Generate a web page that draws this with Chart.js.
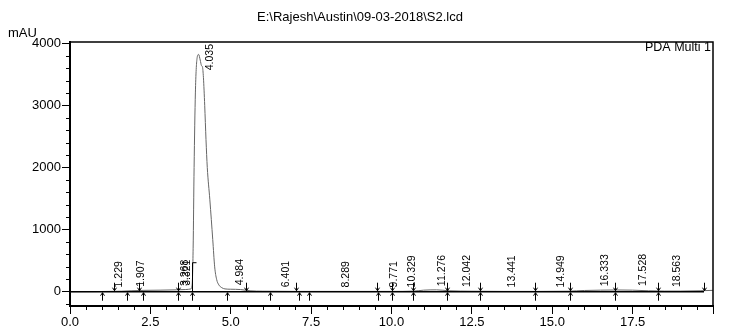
<!DOCTYPE html>
<html>
<head>
<meta charset="utf-8">
<script src="https://cdn.jsdelivr.net/npm/chart.js@4.4.0/dist/chart.umd.min.js"></script>
<style>
	html, body { margin: 0; padding: 0; background: #fff; }
</style>
</head>
<body>
<canvas id="chrom" width="730" height="332"></canvas>
<script>
// chromatogram trace (min, mAU)
const traceTimes = [0, 0.8, 1.2, 1.6, 1.9, 2.3, 2.8, 3.3, 3.6, 3.76, 3.8, 3.83, 3.86, 3.9, 3.95, 4.0, 4.05, 4.09, 4.12, 4.15, 4.19, 4.23, 4.27, 4.35, 4.44, 4.5, 4.56, 4.63, 4.72, 4.82, 5.0, 5.3, 5.6, 6.0, 7.0, 8.0, 9.0, 10.0, 10.7, 11.0, 11.4, 11.8, 12.5, 13.5, 14.5, 15.5, 16.0, 16.5, 17.0, 17.5, 18.0, 18.5, 19.0, 19.6, 20.0];
const traceValues = [0, 2, 5, 8, 15, 22, 25, 30, 35, 45, 120, 700, 2000, 3200, 3750, 3820, 3730, 3640, 3620, 3450, 3000, 2450, 2000, 1480, 840, 400, 200, 110, 65, 45, 40, 35, 15, 8, 5, 5, 5, 5, 10, 25, 30, 15, 8, 5, 5, 8, 20, 25, 28, 25, 15, 10, 10, 15, 22];

// integration baseline
const baselineTimes = [0, 19.72];
const baselineValues = [0, 0];

// peak table
const peakLabels = ["1.229", "1.907", "3.268", "3.321", "4.035", "4.984", "6.401", "8.289", "9.771", "10.329", "11.276", "12.042", "13.441", "14.949", "16.333", "17.528", "18.563"];
const peakTimes = [1.229, 1.907, 3.268, 3.321, 4.035, 4.984, 6.401, 8.289, 9.771, 10.329, 11.276, 12.042, 13.441, 14.949, 16.333, 17.528, 18.563];
const peakHeights = [5, 15, 28, 30, 3820, 40, 8, 5, 5, 5, 25, 10, 5, 5, 22, 28, 10];

// peak start / end marks
const startTimes = [1.0, 1.76, 2.28, 3.35, 4.87, 6.22, 7.13, 7.44, 9.58, 10.0, 10.67, 11.74, 12.74, 14.45, 15.56, 16.94, 18.3];
const endTimes = [1.38, 2.14, 3.35, 5.46, 7.03, 9.56, 10.0, 10.67, 11.74, 12.74, 14.45, 15.56, 16.94, 18.3, 19.72];
const tallMarkTimes = [3.8];

const xTicks = [0, 2.5, 5, 7.5, 10, 12.5, 15, 17.5];
const yTicks = [0, 1000, 2000, 3000, 4000];

const fontFamily = "'Liberation Sans', Arial, sans-serif";

function toPoints(xs, ys) {
	return xs.map((x, i) => ({ x: x, y: ys[i] }));
}

function drawArrow(ctx, x, yFrom, yTo) {
	const dir = yTo > yFrom ? -1 : 1;
	ctx.beginPath();
	ctx.moveTo(x, yFrom);
	ctx.lineTo(x, yTo);
	ctx.moveTo(x - 2, yTo + dir * 3);
	ctx.lineTo(x, yTo);
	ctx.lineTo(x + 2, yTo + dir * 3);
	ctx.stroke();
}

const extrasPlugin = {
	id: "extras",
	afterDraw(chart) {
		const ctx = chart.ctx;
		const area = chart.chartArea;
		const xs = chart.scales.x;
		const ys = chart.scales.y;
		ctx.save();
		ctx.strokeStyle = "#000";
		ctx.fillStyle = "#000";

		// frame top / right
		ctx.lineWidth = 1.5;
		ctx.beginPath();
		ctx.moveTo(area.left, area.top);
		ctx.lineTo(area.right, area.top);
		ctx.lineTo(area.right, area.bottom);
		ctx.stroke();

		// minor ticks
		ctx.lineWidth = 1;
		ctx.beginPath();
		for (let i = -1; i <= 20; i++) {
			if (i % 5 === 0) continue;
			const py = Math.round(ys.getPixelForValue(i * 200)) + 0.5;
			if (py > area.bottom) continue;
			ctx.moveTo(area.left - 4, py);
			ctx.lineTo(area.left, py);
		}
		for (let i = 1; i < 40; i++) {
			if (i % 5 === 0) continue;
			const px = Math.round(xs.getPixelForValue(i * 0.5)) + 0.5;
			ctx.moveTo(px, area.bottom);
			ctx.lineTo(px, area.bottom + 4);
		}
		ctx.stroke();

		// peak marks
		const y0 = ys.getPixelForValue(0);
		startTimes.forEach((t) => {
			const px = Math.round(xs.getPixelForValue(t)) + 0.5;
			drawArrow(ctx, px, y0 + 9, y0 + 1);
		});
		endTimes.forEach((t) => {
			const px = Math.round(xs.getPixelForValue(t)) + 0.5;
			drawArrow(ctx, px, y0 - 9, y0 - 1);
		});
		tallMarkTimes.forEach((t) => {
			const px = Math.round(xs.getPixelForValue(t)) + 0.5;
			drawArrow(ctx, px, y0 + 9, y0 + 1);
			ctx.beginPath();
			ctx.moveTo(px, y0);
			ctx.lineTo(px, y0 - 29);
			ctx.lineTo(px + 4, y0 - 29);
			ctx.stroke();
		});

		// peak labels
		ctx.font = "10.5px " + fontFamily;
		ctx.textAlign = "left";
		ctx.textBaseline = "middle";
		peakLabels.forEach((label, i) => {
			const px = xs.getPixelForValue(peakTimes[i]) + 10;
			const w = ctx.measureText(label).width;
			let bottom = ys.getPixelForValue(peakHeights[i]) - 4;
			if (bottom - w < area.top + 2) bottom = area.top + 2 + w;
			ctx.save();
			ctx.translate(px, bottom);
			ctx.rotate(-Math.PI / 2);
			ctx.fillText(label, 0, 0);
			ctx.restore();
		});

		// unit and detector
		ctx.font = "13px " + fontFamily;
		ctx.textAlign = "left";
		ctx.fillText("mAU", 8, 33);
		ctx.font = "12.5px " + fontFamily;
		ctx.textAlign = "right";
		ctx.fillText("PDA Multi 1", area.right - 2, area.top + 6);
		ctx.restore();
	},
};

new Chart(document.getElementById("chrom").getContext("2d"), {
	type: "line",
	data: {
		datasets: [
			{
				label: "baseline",
				data: toPoints(baselineTimes, baselineValues),
				borderColor: "#000",
				borderWidth: 1.5,
				pointRadius: 0,
			},
			{
				label: "PDA Multi 1",
				data: toPoints(traceTimes, traceValues),
				borderColor: "#666",
				borderWidth: 1,
				pointRadius: 0,
				cubicInterpolationMode: "monotone",
			},
		],
	},
	options: {
		responsive: false,
		animation: false,
		layout: { padding: { top: 0, right: 17, left: 7, bottom: 0 } },
		plugins: {
			legend: { display: false },
			tooltip: { enabled: false },
			title: {
				display: true,
				text: "E:\\Rajesh\\Austin\\09-03-2018\\S2.lcd",
				color: "#000",
				font: { family: fontFamily, size: 13, weight: "normal" },
				padding: { top: 10, bottom: 16.4 },
			},
		},
		scales: {
			x: {
				type: "linear",
				min: 0,
				max: 20,
				afterBuildTicks: (scale) => {
					scale.ticks = xTicks.concat([20]).map((v) => ({ value: v }));
				},
				afterFit: (scale) => {
					scale.height = 26;
				},
				ticks: {
					autoSkip: false,
					maxRotation: 0,
					padding: 1,
					color: "#000",
					font: { family: fontFamily, size: 13 },
					callback: (v) => (v === 20 ? "" : v.toFixed(1)),
				},
				grid: { drawOnChartArea: false, tickLength: 8, color: "#000" },
				border: { display: true, color: "#000", width: 2 },
			},
			y: {
				min: -230,
				max: 4020,
				afterBuildTicks: (scale) => {
					scale.ticks = yTicks.map((v) => ({ value: v }));
				},
				afterFit: (scale) => {
					scale.width = 63;
				},
				ticks: {
					padding: 1,
					color: "#000",
					font: { family: fontFamily, size: 13 },
					callback: (v) => String(v),
				},
				grid: { drawOnChartArea: false, tickLength: 8, color: "#000" },
				border: { display: true, color: "#000", width: 2 },
			},
		},
	},
	plugins: [extrasPlugin],
});
</script>
</body>
</html>
